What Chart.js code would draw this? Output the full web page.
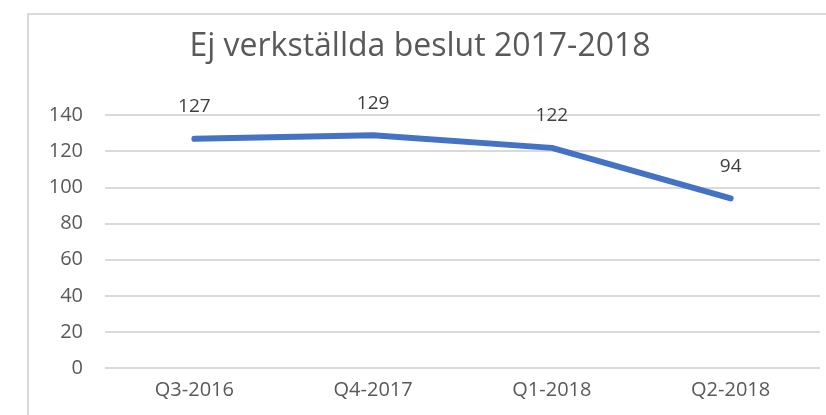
<!DOCTYPE html>
<html>
<head>
<meta charset="utf-8">
<script src="https://cdn.jsdelivr.net/npm/chart.js@4/dist/chart.umd.min.js"></script>
<style>
  body { margin: 0; background: #fff; }
  #wrap { position: relative; width: 826px; height: 415px; }
</style>
</head>
<body>
<div id="wrap"><canvas id="chart" width="826" height="415"></canvas></div>
<script>
var kvartal = ['Q3-2016', 'Q4-2017', 'Q1-2018', 'Q2-2018'];
var ejVerkstallda = [127, 129, 122, 94];
var yTicks = [0, 20, 40, 60, 80, 100, 120, 140];

var fontName = "'Open Sans', 'Liberation Sans', sans-serif";

// ram runt diagrammet
var ramPlugin = {
	id: 'ram',
	beforeDraw: function(chart) {
		var ctx = chart.ctx;
		ctx.save();
		ctx.strokeStyle = '#d9d9d9';
		ctx.lineWidth = 2;
		ctx.beginPath();
		ctx.moveTo(28, 420);
		ctx.lineTo(28, 14);
		ctx.lineTo(830, 14);
		ctx.stroke();
		ctx.restore();
	}
};

// etiketter ovanfor punkterna
var etikettPlugin = {
	id: 'etiketter',
	afterDatasetsDraw: function(chart) {
		var ctx = chart.ctx;
		var meta = chart.getDatasetMeta(0);
		ctx.save();
		ctx.fillStyle = '#404040';
		ctx.font = '19px ' + fontName;
		ctx.textAlign = 'center';
		ctx.textBaseline = 'middle';
		meta.data.forEach(function(pt, i) {
			ctx.fillText(chart.data.datasets[0].data[i], pt.x, pt.y - 32);
		});
		ctx.restore();
	}
};

var ctx = document.getElementById('chart');

var lineGraph = new Chart(ctx, {
	type: 'line',
	data: {
		labels: kvartal,
		datasets: [{
			label: 'Ej verkställda beslut',
			data: ejVerkstallda,
			borderColor: '#4472C4',
			backgroundColor: '#4472C4',
			borderWidth: 6,
			pointRadius: 0,
			tension: 0,
			borderCapStyle: 'round',
			borderJoinStyle: 'round'
		}]
	},
	options: {
		responsive: false,
		animation: false,
		layout: { padding: { left: 20, right: 6, top: 0, bottom: 11 } },
		plugins: {
			legend: { display: false },
			tooltip: { enabled: false },
			title: {
				display: true,
				text: 'Ej verkställda beslut 2017-2018',
				color: '#595959',
				font: { family: fontName, size: 32, weight: 'normal' },
				padding: { top: 28, bottom: 49 }
			}
		},
		scales: {
			x: {
				offset: true,
				grid: { display: false },
				border: { display: false },
				ticks: {
					color: '#595959',
					font: { family: fontName, size: 20 },
					padding: 2
				}
			},
			y: {
				min: 0,
				max: 140,
				afterBuildTicks: function(scale) {
					scale.ticks = yTicks.map(function(v) { return { value: v }; });
				},
				afterFit: function(scale) { scale.width = 85; },
				grid: { color: '#d9d9d9', lineWidth: 2, drawTicks: false },
				border: { display: false },
				ticks: {
					color: '#595959',
					font: { family: fontName, size: 20 },
					padding: 22
				}
			}
		}
	},
	plugins: [ramPlugin, etikettPlugin]
});
</script>
</body>
</html>
